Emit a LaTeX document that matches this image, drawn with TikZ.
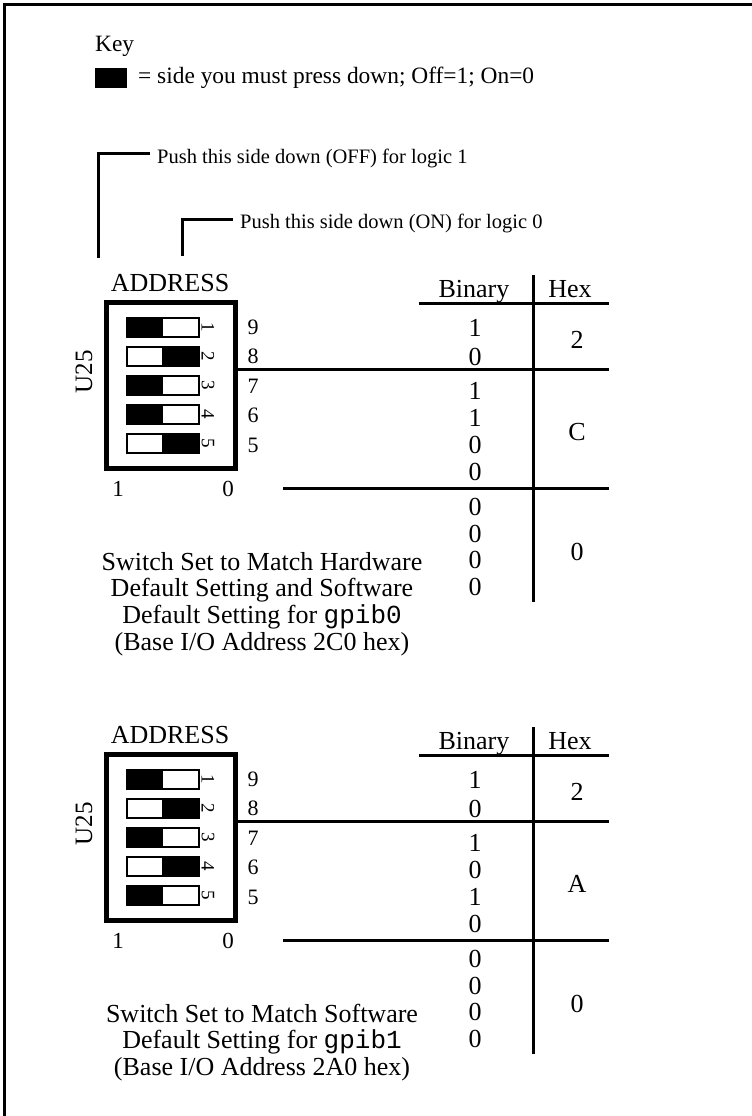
\documentclass[tikz,border=0pt]{standalone}
\usepackage{fontspec}
\setmainfont{Liberation Serif}
\setmonofont{Liberation Mono}
\usetikzlibrary{positioning,calc}
\tikzset{
  big/.style={font=\fontsize{26}{26.7}\selectfont,inner sep=0pt},
  keytxt/.style={font=\fontsize{23.4}{26}\selectfont,inner sep=0pt,anchor=base west},
  pushtxt/.style={font=\fontsize{20.5}{24}\selectfont,inner sep=0pt,anchor=base west},
  pinnum/.style={font=\fontsize{22}{24}\selectfont,inner sep=0pt},
  swnum/.style={font=\fontsize{19}{20}\selectfont,inner sep=0pt,rotate=-90},
  rule/.style={line width=3pt},
  dipbox/.style={draw,line width=5pt,minimum width=129pt,minimum height=166pt,inner sep=0pt},
  swbox/.style={draw,line width=2pt,fill=white,minimum width=72pt,minimum height=19pt,inner sep=0pt},
  caption/.style={big,align=center}
}
\begin{document}
\begin{tikzpicture}[x=1pt,y=-1pt]
\useasboundingbox (0,0) rectangle (752,1116);
\draw[rule] (4.5,1116) -- (4.5,4.5) -- (752,4.5);

% key
\node[keytxt] (key) at (95,52) {Key};
\node[fill=black,minimum width=32pt,minimum height=20pt,inner sep=0pt] (keybox) at (111,78) {};
\node[keytxt] (keydef) at (138,84) {= side you must press down; Off=1; On=0};

% pointers to the two sides of a switch
\node[pushtxt] (push1) at (157,163) {Push this side down (OFF) for logic 1};
\node[pushtxt] (push0) at (240,228) {Push this side down (ON) for logic 0};
\coordinate (side1) at (98,258);
\coordinate (side0) at (182,256);
\draw[rule] (side1) |- ([xshift=-7pt,yshift=10pt]push1.base west);
\draw[rule] (side0) |- ([xshift=-7pt,yshift=9pt]push0.base west);

% the two switch settings
\foreach \s/\dy/\bits/\hexs in {a/0/{1,0,1,1,0,0,0,0,0,0}/{2,C,0}, b/452/{1,0,1,0,1,0,0,0,0,0}/{2,A,0}}{
  \node[big] (addr\s) at (170,283+\dy) {ADDRESS};
  \node[dipbox] (box\s) at (171,385.5+\dy) {};
  \node[big,font=\fontsize{25}{26}\selectfont,rotate=90] (u\s) at (84,372+\dy) {U25};
  \node[big,font=\fontsize{23}{24}\selectfont] (one\s) at (118,489+\dy) {1};
  \node[big,font=\fontsize{23}{24}\selectfont] (zero\s) at (228,489+\dy) {0};
  \foreach \b [count=\i] in \bits {
    \pgfmathsetmacro\yy{{328,357,391,418,445,472,507,533.5,560,587}[\i-1]}
    \node[big] (bit\s\i) at (475,\yy+\dy) {\b};
    \ifnum\i<6
      \node[swbox] (sw\s\i) at (163,{327+29*(\i-1)+\dy}) {};
      \fill ($(sw\s\i.north west)+({(1-\b)*36},0)$) rectangle ($(sw\s\i.south)+({(1-\b)*36},0)$);
      \node[swnum] (swn\s\i) at (208,{327+29*(\i-1)+\dy}) {\i};
      \pgfmathtruncatemacro\pin{10-\i}
      \node[pinnum] (pin\s\i) at (253,{327+29.5*(\i-1)+\dy}) {\pin};
    \fi
  }
  \foreach \h [count=\j] in \hexs {
    \pgfmathsetmacro\hy{{340,432,552}[\j-1]}
    \node[big] (hex\s\j) at (577,\hy+\dy) {\h};
  }
  \node[big,anchor=base] (bin\s) at (474,297+\dy) {Binary};
  \node[big,anchor=base] (hexh\s) at (570,297+\dy) {Hex};
  \coordinate (coltop\s) at (533,275+\dy);
  \coordinate (colbot\s) at (533,602+\dy);
  \coordinate (headl\s) at (419,303+\dy);
  \coordinate (headr\s) at (609,303+\dy);
  \coordinate (sepa\s) at (609,369+\dy);
  \coordinate (sepbl\s) at (283,488+\dy);
  \coordinate (sepb\s) at (609,488+\dy);
  \draw[rule] (coltop\s) -- (colbot\s);
  \draw[rule] (headl\s) -- (headr\s);
  \draw[rule] (box\s.east |- sepa\s) -- (sepa\s);
  \draw[rule] (sepbl\s) -- (sepb\s);
}

\node[caption] (capa) at (262,604) {Switch Set to Match Hardware\\Default Setting and Software\\Default Setting for \texttt{gpib0}\\(Base I/O Address 2C0 hex)};
\node[caption] (capb) at (262,1042.6) {Switch Set to Match Software\\Default Setting for \texttt{gpib1}\\(Base I/O Address 2A0 hex)};
\end{tikzpicture}
\end{document}
